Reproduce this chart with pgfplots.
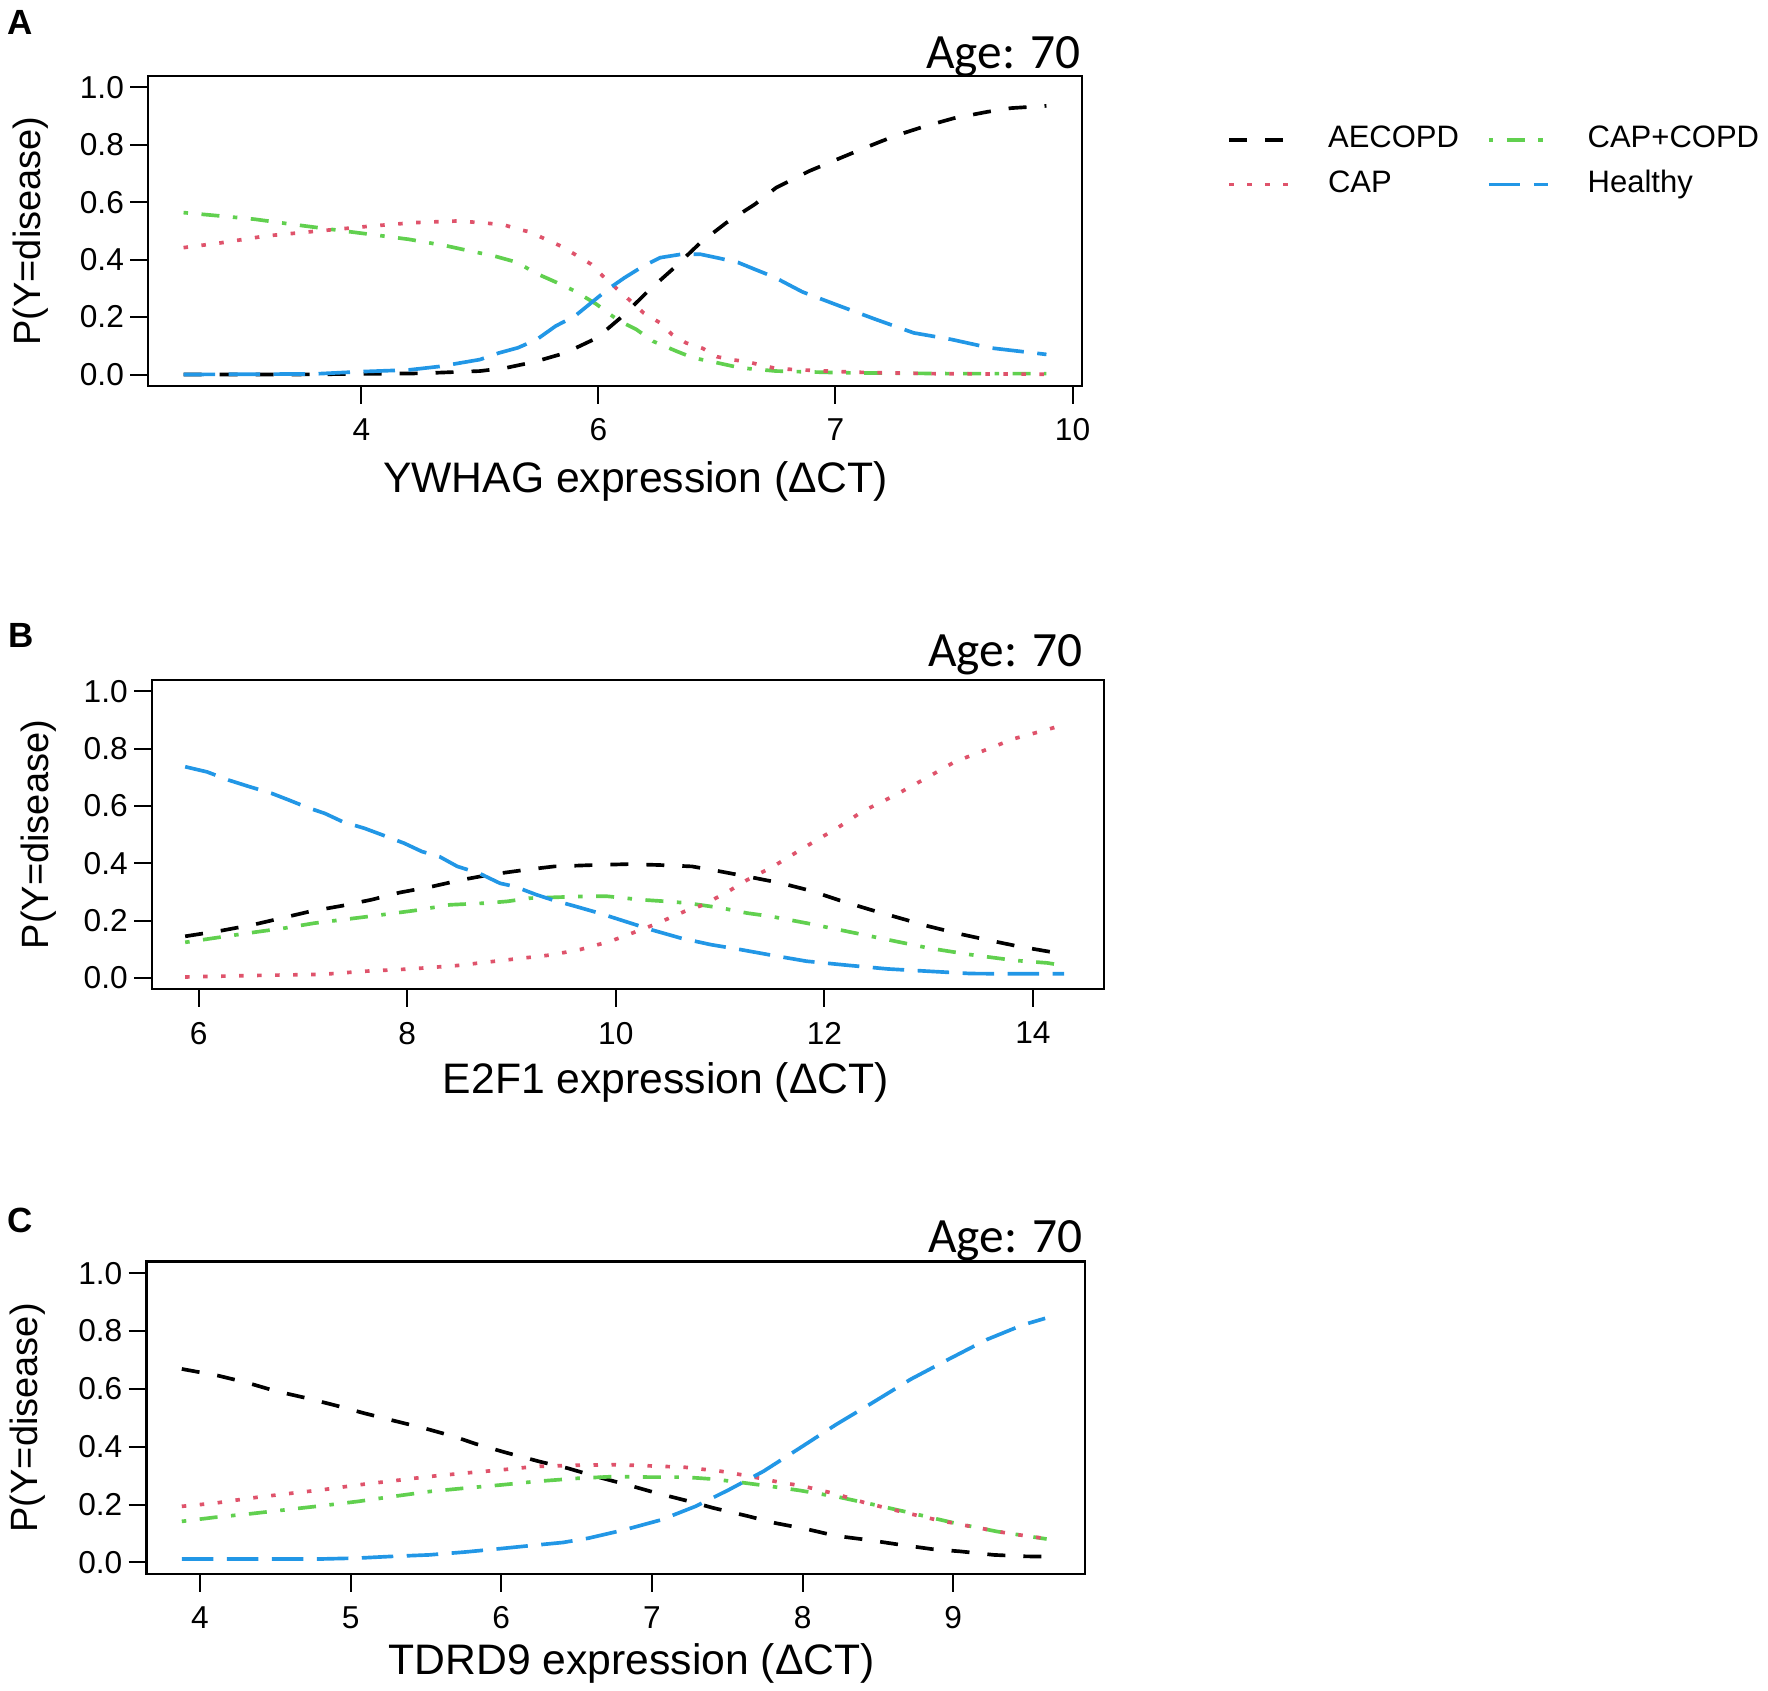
\documentclass[border=0pt]{standalone}
\usepackage{fontspec}
\setmainfont{Liberation Sans}
\newfontfamily\carlito{Carlito}
\usepackage{pgfplots}
\pgfplotsset{compat=1.18}
\definecolor{capred}{HTML}{DF536B}
\definecolor{ccgreen}{HTML}{61D04F}
\definecolor{hblue}{HTML}{2297E6}
\pgfplotsset{
  panel/.style={
    scale only axis, anchor=south west,
    ymin=-0.04, ymax=1.04, ytick={0,0.2,0.4,0.6,0.8,1},
    yticklabel style={xshift=1.6pt, /pgf/number format/.cd, fixed, fixed zerofill, precision=1},
    /pgf/number format/assume math mode=true,
    tick align=outside, xtick pos=left, ytick pos=left,
    major tick length=5.3pt,
    tick style={black, line width=0.6pt},
    axis line style={line width=0.7pt},
    tick label style={font=\fontsize{9.5}{11}\selectfont},
    xticklabel style={yshift=-1pt},
    xlabel style={font=\fontsize{12.8}{15}\selectfont, anchor=base},
    ylabel style={font=\fontsize{11.4}{13}\selectfont, anchor=center},
    ylabel={P(Y=disease)},
    every axis plot/.append style={line width=1.1pt},
  },
  aec/.style={black, dash pattern=on 5.4pt off 5.4pt},
  cap/.style={capred, dash pattern=on 1.35pt off 4.05pt},
  cc/.style={ccgreen, dash pattern=on 1.35pt off 4.05pt on 5.4pt off 4.05pt},
  hl/.style={hblue, dash pattern=on 9.45pt off 4.05pt},
}
\begin{document}
\begin{tikzpicture}
\path[use as bounding box] (0pt,0pt) rectangle (530.4pt,-507.3pt);
% ---------------- Panel A
\begin{axis}[panel, at={(44.4pt,-115.8pt)}, width=280.2pt, height=93pt,
  xmin=-0.90, xmax=3.04, xtick={0,1,2,3}, xticklabels={4,6,7,10},
  xlabel={YWHAG expression (ΔCT)},
  xlabel style={at={(axis description cs:0.522,0)}, yshift=-31.9pt},
  ylabel style={at={(axis description cs:-0.126,0.5)}},
  legend columns=2,
  legend cell align=left,
  legend image code/.code={\draw[#1] (0pt,0pt) -- (17.7pt,0pt);},
  legend style={at={(axis description cs:1.155,0.722)}, anchor=west,
    draw=none, fill=none, inner sep=0pt, row sep=4.8pt, column sep=0pt,
    font=\fontsize{9.3}{11}\selectfont,
    nodes={inner sep=0pt, text height=6.7pt, text depth=2pt},
    /tikz/every odd column/.append style={column sep=11.4pt},
    /tikz/every even column/.append style={column sep=8.4pt}},
]
\addplot[aec] coordinates {
(-0.75,0.000) (-0.30,0.000) (0.00,0.002) (0.25,0.004) (0.50,0.012) (0.61,0.023)
(0.73,0.044) (0.86,0.075) (0.98,0.122) (1.04,0.160) (1.11,0.209) (1.21,0.291)
(1.32,0.372) (1.43,0.459) (1.54,0.529) (1.66,0.593) (1.75,0.651) (1.89,0.709)
(2.02,0.754) (2.14,0.795) (2.25,0.831) (2.37,0.863) (2.50,0.893) (2.64,0.915)
(2.74,0.928) (2.89,0.936)};
\addlegendentry{AECOPD}
\addplot[cc] coordinates {
(-0.75,0.564) (-0.59,0.552) (-0.45,0.541) (-0.29,0.523) (-0.13,0.506) (0.04,0.488)
(0.20,0.471) (0.36,0.448) (0.46,0.430) (0.56,0.413) (0.66,0.390) (0.73,0.355)
(0.82,0.322) (0.90,0.291) (0.99,0.246) (1.06,0.203) (1.09,0.186) (1.16,0.157)
(1.23,0.116) (1.33,0.081) (1.40,0.058) (1.50,0.041) (1.60,0.023) (1.75,0.012)
(2.03,0.006) (2.50,0.003) (2.89,0.003)};
\addlegendentry{CAP+COPD}
\addplot[cap] coordinates {
(-0.75,0.442) (-0.59,0.459) (-0.40,0.483) (-0.18,0.500) (0.04,0.517) (0.22,0.529)
(0.41,0.535) (0.53,0.527) (0.60,0.522) (0.66,0.506) (0.71,0.497) (0.77,0.474)
(0.84,0.448) (0.90,0.419) (0.97,0.384) (1.02,0.342) (1.08,0.297) (1.14,0.253)
(1.19,0.215) (1.26,0.180) (1.31,0.140) (1.37,0.110) (1.44,0.091) (1.50,0.062)
(1.56,0.052) (1.63,0.044) (1.69,0.032) (1.75,0.021) (1.83,0.017) (2.08,0.008)
(2.40,0.003) (2.89,0.001)};
\addlegendentry{CAP}
\addplot[hl] coordinates {
(-0.75,0.000) (-0.20,0.002) (0.00,0.010) (0.20,0.016) (0.33,0.028) (0.50,0.052)
(0.58,0.075) (0.66,0.093) (0.74,0.122) (0.82,0.169) (0.90,0.203) (0.97,0.250)
(1.04,0.297) (1.11,0.337) (1.19,0.378) (1.26,0.407) (1.35,0.419) (1.43,0.419)
(1.51,0.405) (1.59,0.390) (1.67,0.363) (1.74,0.340) (1.86,0.288) (2.02,0.238)
(2.17,0.192) (2.33,0.145) (2.49,0.122) (2.65,0.093) (2.89,0.070)};
\addlegendentry{Healthy}
\end{axis}
% ---------------- Panel B
\begin{axis}[panel, at={(45.54pt,-296.79pt)}, width=285.6pt, height=92.8pt,
  xmin=5.55, xmax=14.68, xtick={6,8,10,12,14},
  xlabel={E2F1 expression (ΔCT)},
  xlabel style={at={(axis description cs:0.540,0)}, yshift=-31.2pt},
  ylabel style={at={(axis description cs:-0.119,0.5)}},
]
\addplot[aec] coordinates {
(5.87,0.145) (6.22,0.165) (6.53,0.186) (6.80,0.209) (7.07,0.232) (7.38,0.252)
(7.66,0.273) (7.93,0.298) (8.24,0.319) (8.52,0.342) (8.79,0.360) (9.13,0.377)
(9.41,0.389) (9.80,0.394) (10.12,0.397) (10.41,0.394) (10.73,0.389) (11.01,0.371)
(11.30,0.351) (11.58,0.331) (11.87,0.304) (12.15,0.270) (12.44,0.238) (12.72,0.209)
(13.00,0.180) (13.29,0.154) (13.58,0.131) (13.86,0.110) (14.18,0.090) (14.30,0.088)};
\addplot[cc] coordinates {
(5.87,0.124) (6.15,0.139) (6.49,0.157) (6.83,0.174) (7.11,0.191) (7.38,0.203)
(7.69,0.217) (8.07,0.235) (8.41,0.255) (8.76,0.261) (8.96,0.267) (9.17,0.278)
(9.31,0.280) (9.66,0.284) (9.91,0.285) (10.23,0.273) (10.48,0.267) (10.69,0.261)
(11.01,0.244) (11.26,0.226) (11.48,0.215) (11.83,0.191) (12.22,0.162) (12.61,0.133)
(13.00,0.104) (13.40,0.081) (13.82,0.061) (14.14,0.052) (14.32,0.041)};
\addplot[cap] coordinates {
(5.87,0.003) (6.49,0.008) (7.18,0.012) (7.59,0.023) (8.03,0.031) (8.48,0.043)
(8.89,0.060) (9.38,0.080) (9.66,0.099) (9.95,0.128) (10.12,0.151) (10.37,0.186)
(10.66,0.232) (10.84,0.255) (11.08,0.302) (11.26,0.342) (11.51,0.389) (11.69,0.429)
(11.94,0.484) (12.12,0.522) (12.36,0.580) (12.68,0.638) (12.97,0.696) (13.25,0.754)
(13.54,0.795) (13.82,0.835) (14.11,0.864) (14.30,0.884)};
\addplot[hl] coordinates {
(5.87,0.737) (6.08,0.719) (6.29,0.690) (6.49,0.667) (6.70,0.644) (6.87,0.620)
(7.04,0.595) (7.21,0.574) (7.38,0.545) (7.59,0.522) (7.76,0.499) (7.97,0.470)
(8.14,0.441) (8.31,0.423) (8.48,0.389) (8.69,0.365) (8.89,0.330) (9.03,0.319)
(9.24,0.290) (9.41,0.270) (9.59,0.252) (9.84,0.226) (10.09,0.197) (10.34,0.168)
(10.62,0.139) (10.91,0.116) (11.19,0.099) (11.51,0.078) (11.83,0.058) (12.22,0.044)
(12.61,0.031) (13.00,0.023) (13.40,0.015) (13.75,0.014) (14.30,0.014)};
\end{axis}
% ---------------- Panel C
\begin{axis}[panel, at={(43.92pt,-472.2pt)}, width=281.6pt, height=93.7pt,
  xmin=3.645, xmax=9.875, xtick={4,5,6,7,8,9},
  xlabel={TDRD9 expression (ΔCT)},
  xlabel style={at={(axis description cs:0.517,0)}, yshift=-30.3pt},
  ylabel style={at={(axis description cs:-0.127,0.5)}},
]
\addplot[aec] coordinates {
(3.88,0.669) (4.12,0.646) (4.31,0.622) (4.50,0.593) (4.71,0.568) (4.90,0.543)
(5.09,0.516) (5.28,0.491) (5.49,0.464) (5.69,0.435) (5.83,0.410) (6.03,0.380)
(6.26,0.348) (6.44,0.326) (6.63,0.297) (6.84,0.268) (7.03,0.240) (7.25,0.211)
(7.41,0.188) (7.63,0.161) (7.82,0.136) (8.03,0.115) (8.22,0.092) (8.43,0.078)
(8.65,0.061) (8.86,0.046) (9.05,0.038) (9.27,0.026) (9.48,0.021) (9.62,0.020)};
\addplot[cc] coordinates {
(3.88,0.142) (4.10,0.156) (4.33,0.168) (4.57,0.182) (4.81,0.196) (5.05,0.211)
(5.28,0.228) (5.52,0.245) (5.76,0.257) (6.00,0.268) (6.23,0.280) (6.51,0.291)
(6.75,0.297) (6.98,0.295) (7.22,0.295) (7.41,0.288) (7.60,0.276) (7.79,0.263)
(7.98,0.249) (8.24,0.226) (8.48,0.199) (8.72,0.171) (9.01,0.136) (9.29,0.107)
(9.62,0.081)};
\addplot[cap] coordinates {
(3.88,0.194) (4.10,0.205) (4.33,0.222) (4.57,0.237) (4.81,0.251) (5.05,0.268)
(5.28,0.282) (5.52,0.297) (5.76,0.309) (6.00,0.320) (6.23,0.332) (6.51,0.336)
(6.75,0.338) (6.98,0.334) (7.22,0.329) (7.46,0.315) (7.63,0.300) (7.82,0.280)
(8.01,0.263) (8.22,0.237) (8.41,0.207) (8.65,0.176) (8.89,0.147) (9.12,0.124)
(9.36,0.101) (9.62,0.082)};
\addplot[hl] coordinates {
(3.88,0.012) (4.81,0.012) (5.05,0.015) (5.28,0.021) (5.52,0.026) (5.76,0.036)
(6.00,0.048) (6.23,0.060) (6.41,0.069) (6.58,0.084) (6.82,0.113) (7.06,0.147)
(7.29,0.194) (7.51,0.251) (7.74,0.315) (7.98,0.395) (8.22,0.476) (8.46,0.551)
(8.72,0.634) (8.96,0.700) (9.22,0.770) (9.46,0.821) (9.61,0.844)};
\end{axis}
% ---------------- annotations
\node[anchor=base east, inner sep=0pt, font=\carlito\fontsize{14.8}{17}\selectfont] at (324.3pt,-20.55pt) {Age: 70};
\node[anchor=base east, inner sep=0pt, font=\carlito\fontsize{14.8}{17}\selectfont] at (324.9pt,-200.1pt) {Age: 70};
\node[anchor=base east, inner sep=0pt, font=\carlito\fontsize{14.8}{17}\selectfont] at (324.9pt,-375.9pt) {Age: 70};
\node[anchor=base west, inner sep=0pt, font=\bfseries\fontsize{10.5}{12}\selectfont] at (2pt,-10.5pt) {A};
\node[anchor=base west, inner sep=0pt, font=\bfseries\fontsize{10.5}{12}\selectfont] at (2.3pt,-194.4pt) {B};
\node[anchor=base west, inner sep=0pt, font=\bfseries\fontsize{10.5}{12}\selectfont] at (2pt,-369.9pt) {C};
\end{tikzpicture}
\end{document}
